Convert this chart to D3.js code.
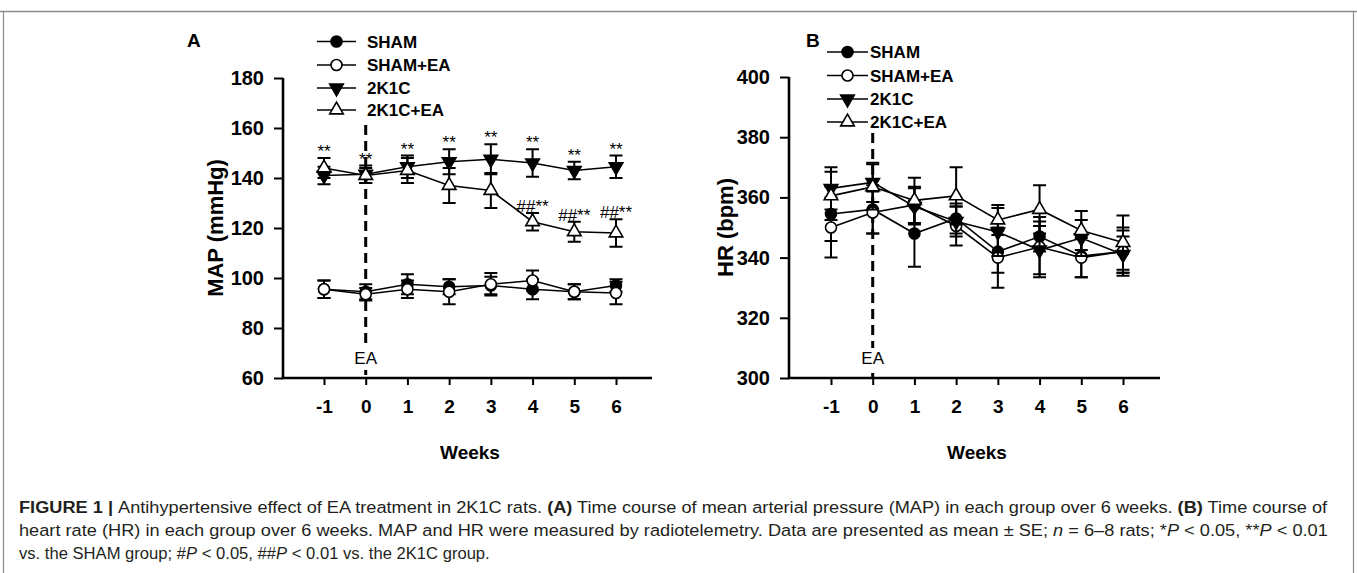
<!DOCTYPE html>
<html><head><meta charset="utf-8">
<script src="https://cdn.jsdelivr.net/npm/d3@7"></script>
<style>body{margin:0;background:#fff;} svg{display:block;}</style>
</head><body>
<svg id="chart" width="1357" height="573"></svg>
<script>
// ---------------- DATA ----------------
const weeks = [-1, 0, 1, 2, 3, 4, 5, 6];
const groups = ["SHAM", "SHAM+EA", "2K1C", "2K1C+EA"];

// Panel A: MAP (mmHg)
const mapSham     = [95.5, 94.5, 97.5, 96.5, 97, 95.5, 94.5, 97];
const mapShamSE   = [3.5, 3, 4, 3, 3.5, 4, 3, 2.5];
const mapShamEA   = [95.5, 93.5, 95.5, 94.5, 97.5, 99, 94.5, 94];
const mapShamEASE = [3.5, 2.5, 3.5, 5, 4.5, 4, 3, 4.5];
const map2K1C     = [141, 141.5, 144.5, 146.5, 147.5, 146, 143, 144.5];
const map2K1CSE   = [3.5, 3.5, 4.5, 5, 6, 5.5, 3.5, 4.5];
const map2K1CEA   = [144, 141, 143, 137, 135, 122.5, 118.5, 118];
const map2K1CEASE = [4, 3, 5, 7, 7, 3.5, 4, 5.5];
const mapStars    = ["**", "**", "**", "**", "**", "**", "**", "**"];
const mapHashes   = ["", "", "", "", "", "##**", "##**", "##**"];
const mapTicks    = [60, 80, 100, 120, 140, 160, 180];

// Panel B: HR (bpm)
const hrSham     = [354.5, 356, 348, 353, 342, 347, 340.5, 342];
const hrShamSE   = [9, 8, 11, 5, 7, 5, 7, 7];
const hrShamEA   = [350, 355, 357.5, 350.5, 340, 343.5, 340, 342];
const hrShamEASE = [10, 7, 6, 6.5, 10, 10, 6.5, 8];
const hr2K1C     = [363, 365, 357, 352, 348.5, 342.5, 346.5, 341];
const hr2K1CSE   = [7, 6.5, 6, 5, 8, 8, 6, 6];
const hr2K1CEA   = [360.5, 363.5, 359, 360.5, 352.5, 356, 349, 345];
const hr2K1CEASE = [8, 7.5, 7.5, 9.5, 5, 8, 6.5, 9];
const hrTicks    = [300, 320, 340, 360, 380, 400];

// ---------------- DRAWING ----------------
const svg = d3.select("#chart");
const FONT = "'Liberation Sans', Arial, Helvetica, sans-serif";

// frame
svg.append("path").attr("d", "M0,11.5 H1357").attr("stroke", "#8a8a8a").attr("stroke-width", 1.5).attr("fill", "none");
svg.append("path").attr("d", "M3.5,11.5 V573 M1353.5,11.5 V573").attr("stroke", "#8a8a8a").attr("stroke-width", 1.2).attr("fill", "none");

const symbolStyles = {
  "SHAM":    {type: d3.symbolCircle,   size: 95, fill: "#000", rot: 0},
  "SHAM+EA": {type: d3.symbolCircle,   size: 95, fill: "#fff", rot: 0},
  "2K1C":    {type: d3.symbolTriangle, size: 80, fill: "#000", rot: 180},
  "2K1C+EA": {type: d3.symbolTriangle, size: 80, fill: "#fff", rot: 0}
};

function drawPanel(cfg) {
  const g = svg.append("g");
  const x = d3.scaleLinear().domain([-1, 6]).range(cfg.xRange);
  const y = d3.scaleLinear().domain(cfg.yDomain).range(cfg.yRange);

  // axes
  const ya = g.append("g").attr("transform", `translate(${cfg.axisX},0)`)
    .call(d3.axisLeft(y).tickValues(cfg.yTicks).tickSize(9).tickPadding(10).tickFormat(d => String(d)));
  const xa = g.append("g").attr("transform", `translate(0,${y(cfg.yDomain[0])})`)
    .call(d3.axisBottom(x).tickValues(weeks).tickSize(7).tickPadding(15).tickFormat(d => String(d)));
  [ya, xa].forEach(a => {
    a.select(".domain").remove();
    a.selectAll(".tick line").attr("stroke", "#000").attr("stroke-width", 2);
    a.selectAll(".tick text").attr("fill", "#000").attr("font-family", FONT)
      .attr("font-weight", "bold").attr("font-size", 19);
  });
  ya.selectAll(".tick text").attr("font-size", 20);
  g.append("path")
    .attr("d", `M${cfg.axisX},${y(cfg.yDomain[1])} V${y(cfg.yDomain[0])} H${cfg.xAxisEnd}`)
    .attr("fill", "none").attr("stroke", "#000").attr("stroke-width", 2.6);

  // EA marker line
  const y0 = y(cfg.yDomain[0]);
  g.append("line").attr("x1", x(0)).attr("x2", x(0)).attr("y1", cfg.dashTop).attr("y2", y0)
    .attr("stroke", "#000").attr("stroke-width", 3).attr("stroke-dasharray", "10,6");
  g.append("rect").attr("x", x(0) - 14).attr("y", y0 - 30).attr("width", 28).attr("height", 22).attr("fill", "#fff");
  g.append("text").attr("x", x(0)).attr("y", y0 - 14).attr("text-anchor", "middle")
    .attr("font-family", FONT).attr("font-size", 17).text("EA");

  // axis titles
  g.append("text").attr("transform", `translate(${cfg.yTitleX},${(y(cfg.yDomain[0]) + y(cfg.yDomain[1])) / 2}) rotate(-90)`)
    .attr("text-anchor", "middle").attr("font-family", FONT).attr("font-weight", "bold").attr("font-size", 22)
    .text(cfg.yTitle);
  g.append("text").attr("x", (x(-1) + x(6)) / 2).attr("y", 459).attr("text-anchor", "middle")
    .attr("font-family", FONT).attr("font-weight", "bold").attr("font-size", 19).text("Weeks");
  g.append("text").attr("x", cfg.letterX).attr("y", 47).attr("font-family", FONT)
    .attr("font-weight", "bold").attr("font-size", 19).text(cfg.letter);

  // series
  cfg.series.forEach(s => {
    const st = symbolStyles[s.name];
    const sg = g.append("g");
    sg.append("path").datum(weeks.map((w, i) => [w, s.values[i]]))
      .attr("d", d3.line().x(d => x(d[0])).y(d => y(d[1])))
      .attr("fill", "none").attr("stroke", "#000").attr("stroke-width", 1.6);
    weeks.forEach((w, i) => {
      const cx = x(w), hi = y(s.values[i] + s.se[i]), lo = y(s.values[i] - s.se[i]);
      sg.append("path").attr("d", `M${cx},${hi} V${lo} M${cx - 6.5},${hi} H${cx + 6.5} M${cx - 6.5},${lo} H${cx + 6.5}`)
        .attr("fill", "none").attr("stroke", "#000").attr("stroke-width", 2);
    });
    sg.selectAll("path.sym").data(weeks).enter().append("path").attr("class", "sym")
      .attr("d", d3.symbol().type(st.type).size(st.size))
      .attr("transform", (w, i) => `translate(${x(w)},${y(s.values[i])}) rotate(${st.rot})`)
      .attr("fill", st.fill).attr("stroke", "#000").attr("stroke-width", 1.6);
  });

  // annotations
  if (cfg.annot) {
    cfg.annot.forEach(a => {
      weeks.forEach((w, i) => {
        if (!a.labels[i]) return;
        const top = d3.max(a.ref.map(r => r.values[i] + r.se[i]));
        g.append("text").attr("x", x(w)).attr("y", y(top) - 1).attr("text-anchor", "middle")
          .attr("font-family", FONT).attr("font-size", 17).text(a.labels[i]);
      });
    });
  }

  // legend
  groups.forEach((name, k) => {
    const st = symbolStyles[name];
    const ly = cfg.legendY[k];
    g.append("line").attr("x1", cfg.legendX).attr("x2", cfg.legendX + cfg.legendLen).attr("y1", ly).attr("y2", ly)
      .attr("stroke", "#000").attr("stroke-width", 1.6);
    g.append("path").attr("d", d3.symbol().type(st.type).size(st.size))
      .attr("transform", `translate(${cfg.legendX + cfg.legendLen / 2},${ly}) rotate(${st.rot})`)
      .attr("fill", st.fill).attr("stroke", "#000").attr("stroke-width", 1.6);
    g.append("text").attr("x", cfg.legendTextX).attr("y", ly + 6).attr("font-family", FONT)
      .attr("font-weight", "bold").attr("font-size", 17).text(name);
  });
}

const sA = {
  sham:   {name: "SHAM",    values: mapSham,   se: mapShamSE},
  shamEA: {name: "SHAM+EA", values: mapShamEA, se: mapShamEASE},
  k:      {name: "2K1C",    values: map2K1C,   se: map2K1CSE},
  kEA:    {name: "2K1C+EA", values: map2K1CEA, se: map2K1CEASE}
};
drawPanel({
  letter: "A", letterX: 187,
  xRange: [324, 616], yDomain: [60, 180], yRange: [378, 78], yTicks: mapTicks,
  axisX: 283, xAxisEnd: 652, yTitle: "MAP (mmHg)", yTitleX: 223, dashTop: 125,
  series: [sA.sham, sA.shamEA, sA.k, sA.kEA],
  annot: [{labels: mapStars, ref: [sA.k, sA.kEA]}, {labels: mapHashes, ref: [sA.kEA]}],
  legendX: 317, legendLen: 39, legendTextX: 367, legendY: [41.5, 65, 88, 110]
});
drawPanel({
  letter: "B", letterX: 806,
  xRange: [831, 1123], yDomain: [300, 400], yRange: [378, 77], yTicks: hrTicks,
  axisX: 789, xAxisEnd: 1160, yTitle: "HR (bpm)", yTitleX: 733, dashTop: 133,
  series: [
    {name: "SHAM",    values: hrSham,   se: hrShamSE},
    {name: "SHAM+EA", values: hrShamEA, se: hrShamEASE},
    {name: "2K1C",    values: hr2K1C,   se: hr2K1CSE},
    {name: "2K1C+EA", values: hr2K1CEA, se: hr2K1CEASE}
  ],
  legendX: 827, legendLen: 41, legendTextX: 870, legendY: [52, 75.5, 99, 122]
});

// ---------------- CAPTION ----------------
const captionLines = [
  {y: 513, x0: 19, x1: 1328, parts: [
    ["FIGURE 1 | ", "b"], ["Antihypertensive effect of EA treatment in 2K1C rats. ", ""], ["(A)", "b"],
    [" Time course of mean arterial pressure (MAP) in each group over 6 weeks. ", ""], ["(B)", "b"], [" Time course of", ""]]},
  {y: 536, x0: 19, x1: 1328, parts: [
    ["heart rate (HR) in each group over 6 weeks. MAP and HR were measured by radiotelemetry. Data are presented as mean \u00B1 SE; ", ""],
    ["n", "i"], [" = 6\u20138 rats; *", ""], ["P", "i"], [" < 0.05, **", ""], ["P", "i"], [" < 0.01", ""]]},
  {y: 559, x0: 19, x1: 490, parts: [
    ["vs. the SHAM group; #", ""], ["P", "i"], [" < 0.05, ##", ""], ["P", "i"], [" < 0.01 vs. the 2K1C group.", ""]]}
];
captionLines.forEach(L => {
  const t = svg.append("text").attr("x", 0).attr("y", 0).attr("font-family", "'Liberation Sans Narrow', 'Arial Narrow', " + FONT)
    .attr("font-size", 17).attr("fill", "#231f20").style("white-space", "pre").attr("xml:space", "preserve");
  L.parts.forEach(p => {
    const ts = t.append("tspan").text(p[0]);
    if (p[1] === "b") ts.attr("font-weight", "bold");
    if (p[1] === "i") ts.attr("font-style", "italic");
  });
  const w = t.node().getComputedTextLength();
  const sx = (L.x1 - L.x0) / w;
  t.attr("transform", `translate(${L.x0},${L.y}) scale(${sx},1)`);
});
</script>
</body></html>
